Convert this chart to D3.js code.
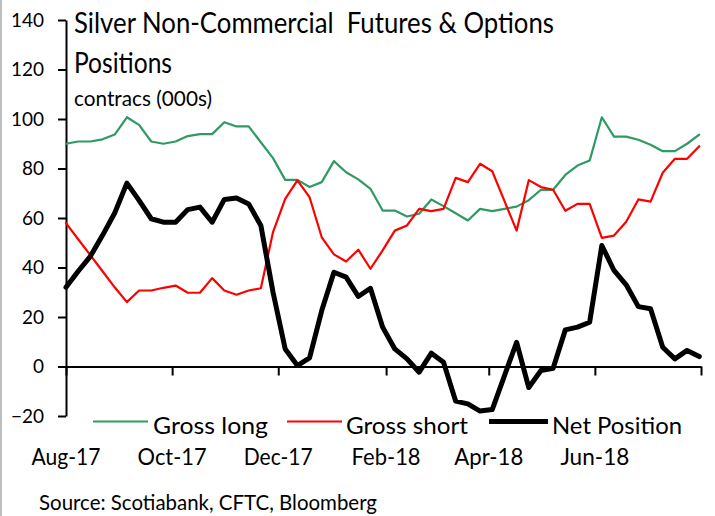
<!DOCTYPE html>
<html><head><meta charset="utf-8">
<script src="https://cdn.jsdelivr.net/npm/d3@7"></script>
<style>
body{margin:0;background:#fff}
svg{display:block}
text{font-family:Lato,"Open Sans",sans-serif;fill:#000}
</style>
</head><body>
<svg id="chart" width="715" height="516"></svg>
<script>
// ---- data (thousand contracts, weekly from 1 Aug 2017) ----
const startDate = "2017-08-01";
const grossLong = [90.0,90.9,90.9,91.8,93.7,100.7,97.6,90.9,90.0,90.9,93.1,93.9,93.9,98.7,97.0,97.0,90.6,84.2,75.4,75.4,72.5,74.5,83.0,78.5,75.6,71.8,63.0,63.0,60.6,61.7,67.5,64.8,61.9,59.0,63.7,62.8,63.7,64.6,67.2,71.4,71.4,77.4,81.2,83.2,100.7,92.9,92.9,91.6,89.6,87.0,87.0,90.0,93.7];
const grossShort = [57.9,51.4,45.0,38.5,32.0,26.0,30.7,30.7,31.8,32.7,29.8,29.8,35.7,30.7,29.0,30.7,31.6,54.3,67.7,75.2,68.4,52.2,45.3,42.4,47.2,39.5,46.9,54.9,57.0,63.7,62.8,63.7,76.2,74.5,81.9,78.9,66.9,54.9,75.3,72.5,71.4,62.9,65.7,65.7,52.0,52.9,58.5,67.5,66.6,78.3,83.9,83.9,89.0];
const netPosition = [32.0,38.5,44.5,53.0,62.0,74.1,67.1,59.7,58.3,58.3,63.4,64.4,58.3,67.5,68.1,65.7,57.0,30.0,7.1,0.4,3.5,22.6,38.1,36.1,28.3,31.6,15.9,7.1,3.1,-2.3,5.4,1.7,-14.0,-15.1,-18.0,-17.4,-3.8,9.8,-8.5,-1.6,-0.7,14.8,15.9,17.9,48.9,38.8,33.0,24.2,23.3,7.8,3.1,6.5,4.0];
const seriesNames = ["Gross long","Gross short","Net Position"];
const seriesColors = ["#2f9a63","#ff0000","#000000"];
const xTickDates = ["2017-08-01","2017-10-01","2017-12-01","2018-02-01","2018-04-01","2018-06-01","2018-08-01"];
const xTickLabels = ["Aug-17","Oct-17","Dec-17","Feb-18","Apr-18","Jun-18",""];
const yTicks = [-20,0,20,40,60,80,100,120,140];
const titleLines = ["Silver Non-Commercial  Futures & Options","Positions"];
const unitLabel = "contracs (000s)";
const sourceText = "Source: Scotiabank, CFTC, Bloomberg";

// ---- setup ----
const svg = d3.select("#chart");
const parse = d3.utcParse("%Y-%m-%d");
const t0 = parse(startDate);
const dates = grossLong.map((_, i) => d3.utcDay.offset(t0, 7 * i));

const x = d3.scaleUtc()
  .domain([parse(xTickDates[0]), parse(xTickDates[xTickDates.length - 1])])
  .range([66, 701]);
const y = d3.scaleLinear().domain([-20, 140]).range([416, 20]);

function fit(sel, w) {
  sel.attr("textLength", w).attr("lengthAdjust", "spacingAndGlyphs");
  return sel;
}

// left frame line
svg.append("line").attr("x1", 1).attr("x2", 1).attr("y1", 0).attr("y2", 516)
  .attr("stroke", "#bfbfbf").attr("stroke-width", 2);

// ---- axes ----
const yAxis = svg.append("g").attr("transform", "translate(66,0)")
  .call(d3.axisLeft(y).tickValues(yTicks).tickSize(8).tickSizeOuter(0).tickPadding(14).tickFormat(d3.format("d")));
yAxis.select(".domain").attr("stroke", "#000").attr("stroke-width", 2);
yAxis.selectAll(".tick line").attr("stroke", "#000").attr("stroke-width", 2);
yAxis.selectAll(".tick text").style("font-family", "Lato, sans-serif").style("font-size", "19px").attr("fill", "#000");

const xAxis = svg.append("g").attr("transform", `translate(0,${y(0)})`)
  .call(d3.axisBottom(x).tickValues(xTickDates.map(parse)).tickSize(9).tickSizeOuter(0).tickFormat(""));
xAxis.select(".domain").attr("stroke", "#000").attr("stroke-width", 2);
xAxis.selectAll(".tick line").attr("stroke", "#000").attr("stroke-width", 2);

// x labels (below the plot)
svg.append("g").selectAll("text").data(xTickDates.map((d, i) => ({d: parse(d), l: xTickLabels[i]})).filter(o => o.l))
  .join("text")
  .attr("x", o => x(o.d)).attr("y", 465)
  .attr("text-anchor", "middle")
  .style("font-size", "24px")
  .text(o => o.l)
  .call(fit, 69);

// ---- lines ----
const series = [grossLong, grossShort, netPosition];
const widths = [2.2, 2.2, 5];
series.forEach((vals, k) => {
  svg.append("path")
    .datum(vals)
    .attr("fill", "none")
    .attr("stroke", seriesColors[k])
    .attr("stroke-width", widths[k])
    .attr("stroke-linejoin", "round")
    .attr("stroke-linecap", "round")
    .attr("d", d3.line().x((d, i) => x(dates[i])).y(d => y(d)));
});

// ---- titles ----
svg.append("text").attr("x", 74).attr("y", 33).style("font-size", "29px")
  .style("white-space", "pre").text(titleLines[0]).call(fit, 480);
svg.append("text").attr("x", 74).attr("y", 73).style("font-size", "29px")
  .text(titleLines[1]).call(fit, 98);
svg.append("text").attr("x", 74).attr("y", 106).style("font-size", "22px")
  .text(unitLabel).call(fit, 138);

// ---- legend ----
const legendItems = [
  {x1: 93, x2: 148, tx: 153, tw: 115},
  {x1: 287, x2: 342, tx: 346, tw: 122},
  {x1: 489, x2: 548, tx: 552, tw: 130}
];
legendItems.forEach((it, k) => {
  svg.append("line").attr("x1", it.x1).attr("x2", it.x2).attr("y1", 421.5).attr("y2", 421.5)
    .attr("stroke", seriesColors[k]).attr("stroke-width", widths[k]);
  svg.append("text").attr("x", it.tx).attr("y", 434).style("font-size", "24px")
    .text(seriesNames[k]).call(fit, it.tw);
});

// ---- source ----
svg.append("text").attr("x", 39).attr("y", 510).style("font-size", "22px")
  .text(sourceText).call(fit, 338);
</script>
</body></html>
